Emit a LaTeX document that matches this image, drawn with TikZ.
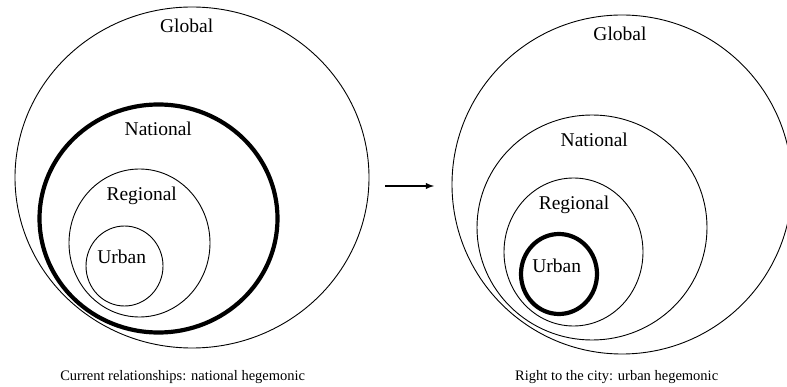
\documentclass[tikz,border=0pt]{standalone}
\usepackage{fontspec}
\setmainfont{Liberation Serif}
\usepackage{tikz}
\usetikzlibrary{arrows}
\usetikzlibrary{positioning}

\tikzset{
    scale label/.style={anchor=base, inner sep=0pt, font=\fontsize{19.5}{22}\selectfont},
    caption label/.style={anchor=base, inner sep=0pt, font=\fontsize{14.5}{17}\selectfont},
    thin ring/.style={line width=0.9pt},
    thick ring/.style={line width=4.2pt}
}

\begin{document}
\begin{tikzpicture}[x=1pt, y=-1pt]
    \useasboundingbox (0, 0) rectangle (787, 387);
    \clip (0, 0) rectangle (787, 387);

    \draw [thin ring] (192, 177.5) ellipse [x radius=177pt, y radius=170.5pt];
    \draw [thick ring] (158.5, 218.5) ellipse [x radius=119pt, y radius=114pt];
    \draw [thin ring] (139.5, 243) ellipse [x radius=70.5pt, y radius=74pt];
    \draw [thin ring] (124.5, 266) ellipse [x radius=38.5pt, y radius=40pt];

    \node [scale label] (globalA) at (186.7, 32.5) {Global};
    \node [scale label] (nationalA) at (158.3, 136) {National};
    \node [scale label] (regionalA) at (141.7, 201) {Regional};
    \node [scale label] (urbanA) at (121.7, 264) {Urban};
    \node [caption label] (captionA) at (182.7, 380) {Current relationships: national hegemonic};

    \draw [thin ring] (622, 184.5) ellipse [x radius=170pt, y radius=169.5pt];
    \draw [thin ring] (592, 227.5) ellipse [x radius=115pt, y radius=112.5pt];
    \draw [thin ring] (573.5, 252) ellipse [x radius=69.5pt, y radius=74pt];
    \draw [thick ring] (559, 274) ellipse [x radius=38pt, y radius=40pt];

    \node [scale label] (globalB) at (620, 40.5) {Global};
    \node [scale label] (nationalB) at (594.3, 147) {National};
    \node [scale label] (regionalB) at (574, 210) {Regional};
    \node [scale label] (urbanB) at (556.7, 272.5) {Urban};
    \node [caption label] (captionB) at (616.7, 380) {Right to the city: urban hegemonic};

    \coordinate (arrowtail) at (385, 186);
    \coordinate (arrowtip) at (434, 186);
    \draw [-latex, line width=1.8pt] (arrowtail) -- (arrowtip);
  \end{tikzpicture}
\end{document}
